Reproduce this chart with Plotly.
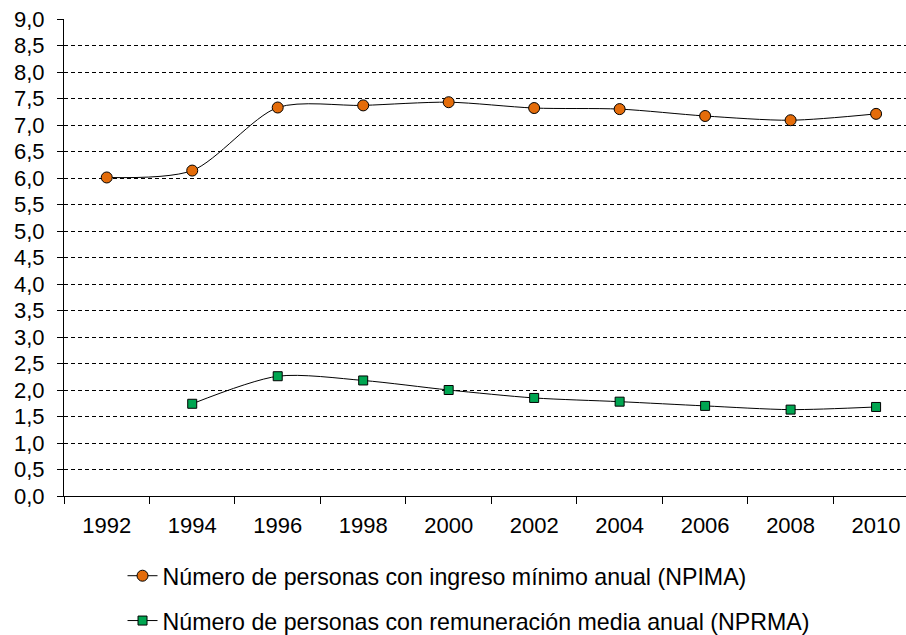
import plotly.graph_objects as go

years = ["1992", "1994", "1996", "1998", "2000", "2002", "2004", "2006", "2008", "2010"]
npima = [6.01, 6.14, 7.33, 7.37, 7.43, 7.32, 7.30, 7.17, 7.09, 7.21]
nprma_years = ["1994", "1996", "1998", "2000", "2002", "2004", "2006", "2008", "2010"]
nprma = [1.74, 2.26, 2.18, 2.00, 1.85, 1.78, 1.70, 1.63, 1.68]

name1 = "Número de personas con ingreso mínimo anual (NPIMA)"
name2 = "Número de personas con remuneración media anual (NPRMA)"

fig = go.Figure()
fig.add_trace(go.Scatter(
    x=years, y=npima, name=name1, mode="lines+markers",
    line=dict(color="#000000", width=1, shape="spline", smoothing=0.8),
    marker=dict(symbol="circle", size=11, color="#E46C0A", line=dict(color="#000000", width=1)),
    legend="legend",
))
fig.add_trace(go.Scatter(
    x=nprma_years, y=nprma, name=name2, mode="lines+markers",
    line=dict(color="#000000", width=1, shape="spline", smoothing=0.8),
    marker=dict(symbol="square", size=9, color="#00A651", line=dict(color="#000000", width=1)),
    legend="legend2",
))

font = dict(family="Liberation Sans, Arial, sans-serif", size=22, color="#000000")
lfont = dict(family="Liberation Sans, Arial, sans-serif", size=23.2, color="#000000")

fig.update_layout(
    width=906, height=635,
    margin=dict(l=64, r=0, t=19, b=139, autoexpand=False),
    paper_bgcolor="white", plot_bgcolor="white",
    separators=",.",
    font=font,
    showlegend=True,
    legend=dict(x=0.0695, y=-0.168, xanchor="left", yanchor="middle",
                font=lfont, bgcolor="rgba(0,0,0,0)", itemwidth=30),
    legend2=dict(x=0.0695, y=-0.262, xanchor="left", yanchor="middle",
                 font=lfont, bgcolor="rgba(0,0,0,0)", itemwidth=30),
    xaxis=dict(
        type="category", categoryorder="array", categoryarray=years,
        range=[-0.5, 9.35], tickson="boundaries", ticks="outside", ticklen=7,
        tickcolor="#000000", showline=True, linecolor="#000000", linewidth=1,
        showgrid=False, tickfont=font, ticklabelstandoff=10, automargin=False,
    ),
    yaxis=dict(
        range=[0, 9], dtick=0.5, tick0=0, tickformat=".1f",
        ticks="outside", ticklen=6, tickcolor="#000000",
        showline=True, linecolor="#000000", linewidth=1,
        showgrid=True, gridcolor="#000000", gridwidth=1, griddash="4px,3px",
        zeroline=False, tickfont=font, ticklabelstandoff=8, automargin=False,
    ),
)

fig.write_html("out.html", config={"displayModeBar": False},
               post_script="document.body.style.margin='0';")
